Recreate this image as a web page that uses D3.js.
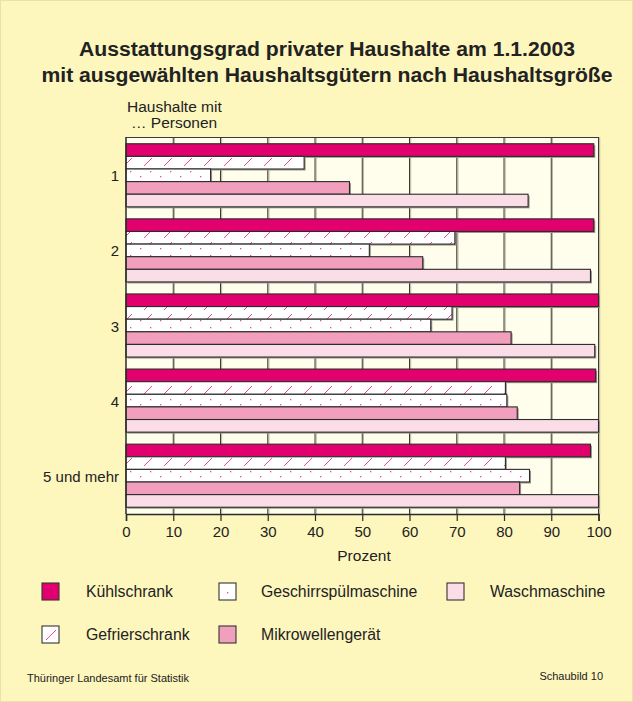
<!DOCTYPE html>
<html>
<head>
<meta charset="utf-8">
<script src="https://cdn.jsdelivr.net/npm/d3@7"></script>
<style>
  body { margin: 0; background: #fdf6bd; }
  text { font-family: "Liberation Sans", Arial, sans-serif; fill: #222; }
</style>
</head>
<body>
<div class="chart"></div>
<script>
const groups = ['1', '2', '3', '4', '5 und mehr'];
const series = ['Kühlschrank', 'Gefrierschrank', 'Geschirrspülmaschine', 'Mikrowellengerät', 'Waschmaschine'];
const kuehl = [99.0, 99.0, 100, 99.4, 98.3];
const gefrier = [37.7, 69.6, 69.0, 80.3, 80.3];
const geschirr = [17.9, 51.5, 64.5, 80.6, 85.4];
const mikro = [47.3, 62.8, 81.5, 82.8, 83.3];
const wasch = [85.1, 98.3, 99.2, 100, 100];
const ticks = [0, 10, 20, 30, 40, 50, 60, 70, 80, 90, 100];

const values = [kuehl, gefrier, geschirr, mikro, wasch];
const fills = ['#e2006e', 'url(#hatch)', 'url(#dots)', '#f29fbe', '#fbdde8'];

const width = 633, height = 702;
const svg = d3.select('.chart').append('svg')
  .attr('width', width).attr('height', height);

const defs = svg.append('defs');
const hatch = defs.append('pattern').attr('id', 'hatch')
  .attr('patternUnits', 'userSpaceOnUse').attr('width', 20).attr('height', 12);
hatch.append('rect').attr('width', 20).attr('height', 12).attr('fill', '#fff');
hatch.append('line').attr('x1', 4).attr('y1', 10).attr('x2', 12).attr('y2', 2)
  .attr('stroke', '#ec4b9a').attr('stroke-width', 1);
const dots = defs.append('pattern').attr('id', 'dots')
  .attr('patternUnits', 'userSpaceOnUse').attr('width', 20).attr('height', 12)
  .attr('y', 1);
dots.append('rect').attr('width', 20).attr('height', 12).attr('fill', '#fff');
dots.append('rect').attr('x', 0).attr('y', 7).attr('width', 1.3).attr('height', 1.3).attr('fill', '#ec4b9a');
dots.append('rect').attr('x', 10).attr('y', 2).attr('width', 1.3).attr('height', 1.3).attr('fill', '#ec4b9a');

// frame
svg.append('rect').attr('x', 0.5).attr('y', 0.5).attr('width', width - 1).attr('height', height - 1)
  .attr('fill', '#fdf6bd').attr('stroke', '#ece1a6');

// title
const t1 = svg.append('text').attr('x', 327).attr('y', 56).attr('text-anchor', 'middle')
  .attr('font-size', '20px').attr('font-weight', 'bold')
  .text('Ausstattungsgrad privater Haushalte am 1.1.2003');
const t2 = svg.append('text').attr('x', 327).attr('y', 82).attr('text-anchor', 'middle')
  .attr('font-size', '20px').attr('font-weight', 'bold')
  .text('mit ausgewählten Haushaltsgütern nach Haushaltsgröße');
// reference font runs a little wider than Liberation Sans
const stretch = 571 / t2.node().getComputedTextLength();
[t1, t2].forEach(t => {
  t.attr('textLength', t.node().getComputedTextLength() * stretch)
    .attr('lengthAdjust', 'spacingAndGlyphs');
});

svg.append('text').attr('x', 127).attr('y', 112).attr('font-size', '15.5px').text('Haushalte mit');
svg.append('text').attr('x', 131).attr('y', 128).attr('font-size', '15.5px').text('… Personen');

const pLeft = 126, pRight = 598.5, pTop = 137, pBottom = 514;
const x = d3.scaleLinear().domain([0, 100]).range([pLeft, pRight]);
const y = d3.scaleBand().domain(groups).range([pTop, pBottom]).paddingInner(0.16).paddingOuter(0.09);
const yi = d3.scaleBand().domain(series).range([0, y.bandwidth()]);

// plot background
svg.append('rect').attr('x', pLeft).attr('y', pTop).attr('width', pRight - pLeft).attr('height', pBottom - pTop)
  .attr('fill', '#fffdeb');

// grid lines with shadow
const grid = svg.append('g');
grid.selectAll('.gs').data(ticks.slice(1)).enter().append('line')
  .attr('x1', d => x(d) + 1.2).attr('x2', d => x(d) + 1.2)
  .attr('y1', pTop).attr('y2', pBottom)
  .attr('stroke', '#b9b49a').attr('stroke-width', 1);
grid.selectAll('.g').data(ticks.slice(1)).enter().append('line')
  .attr('x1', d => x(d)).attr('x2', d => x(d))
  .attr('y1', pTop).attr('y2', pBottom)
  .attr('stroke', '#3a3a3a').attr('stroke-width', 1);
svg.append('line').attr('x1', pLeft).attr('x2', pRight).attr('y1', pTop + 0.5).attr('y2', pTop + 0.5)
  .attr('stroke', '#3a3a3a');

// bars
const rows = [];
groups.forEach((g, gi) => {
  series.forEach((s, si) => {
    rows.push({ group: g, series: s, value: values[si][gi], fill: fills[si] });
  });
});

const bars = svg.append('g');
bars.selectAll('.shadow').data(rows).enter().append('rect')
  .attr('x', pLeft + 1.5)
  .attr('y', d => y(d.group) + yi(d.series) + 1.5)
  .attr('width', d => x(d.value) - pLeft)
  .attr('height', yi.bandwidth())
  .attr('fill', '#9c9a8a');
bars.selectAll('.bar').data(rows).enter().append('rect')
  .attr('x', pLeft)
  .attr('y', d => y(d.group) + yi(d.series))
  .attr('width', d => x(d.value) - pLeft)
  .attr('height', yi.bandwidth())
  .attr('fill', d => d.fill)
  .attr('stroke', '#2b2b2b')
  .attr('stroke-width', 1.1);

// y labels
svg.selectAll('.ylab').data(groups).enter().append('text')
  .attr('x', 119)
  .attr('y', d => y(d) + y.bandwidth() / 2 + 6)
  .attr('text-anchor', 'end')
  .attr('font-size', '15px')
  .text(d => d);

// left axis line
svg.append('line').attr('x1', pLeft).attr('x2', pLeft).attr('y1', pTop).attr('y2', pBottom)
  .attr('stroke', '#2b2b2b').attr('stroke-width', 1.5);

// x axis
const xAxis = svg.append('g').attr('transform', 'translate(0,' + pBottom + ')')
  .call(d3.axisBottom(x).tickValues(ticks).tickSize(7).tickPadding(5));
xAxis.select('.domain').attr('stroke', '#2b2b2b').attr('stroke-width', 1.5);
xAxis.selectAll('.tick line').attr('stroke', '#2b2b2b').attr('stroke-width', 1.2);
xAxis.selectAll('.tick text').attr('font-size', '15px').attr('fill', '#222')
  .attr('font-family', '"Liberation Sans", Arial, sans-serif');

svg.append('text').attr('x', 364).attr('y', 561).attr('text-anchor', 'middle')
  .attr('font-size', '15.5px').text('Prozent');

// legend
const legendPos = [
  { sx: 42, tx: 86, y: 583 },
  { sx: 42, tx: 86, y: 626 },
  { sx: 219, tx: 261, y: 583 },
  { sx: 219, tx: 261, y: 626 },
  { sx: 447, tx: 490, y: 583 }
];
const legend = svg.selectAll('.leg').data(series).enter().append('g');
legend.append('rect')
  .attr('x', (d, i) => legendPos[i].sx)
  .attr('y', (d, i) => legendPos[i].y)
  .attr('width', 17).attr('height', 17)
  .attr('fill', (d, i) => i === 1 ? '#fff' : (i === 2 ? '#fff' : fills[i]))
  .attr('stroke', '#333').attr('stroke-width', 1.1);
legend.filter((d, i) => i === 1).append('line')
  .attr('x1', 46).attr('y1', 640).attr('x2', 56).attr('y2', 630)
  .attr('stroke', '#ec4b9a');
legend.filter((d, i) => i === 2).append('rect')
  .attr('x', 227).attr('y', 592).attr('width', 1.3).attr('height', 1.3).attr('fill', '#ec4b9a');
legend.append('text')
  .attr('x', (d, i) => legendPos[i].tx)
  .attr('y', (d, i) => legendPos[i].y + 14)
  .attr('font-size', '15.8px')
  .text(d => d);

// footer
svg.append('text').attr('x', 27).attr('y', 682).attr('font-size', '11px')
  .text('Thüringer Landesamt für Statistik');
svg.append('text').attr('x', 603).attr('y', 680).attr('text-anchor', 'end').attr('font-size', '11px')
  .text('Schaubild 10');
</script>
</body>
</html>
